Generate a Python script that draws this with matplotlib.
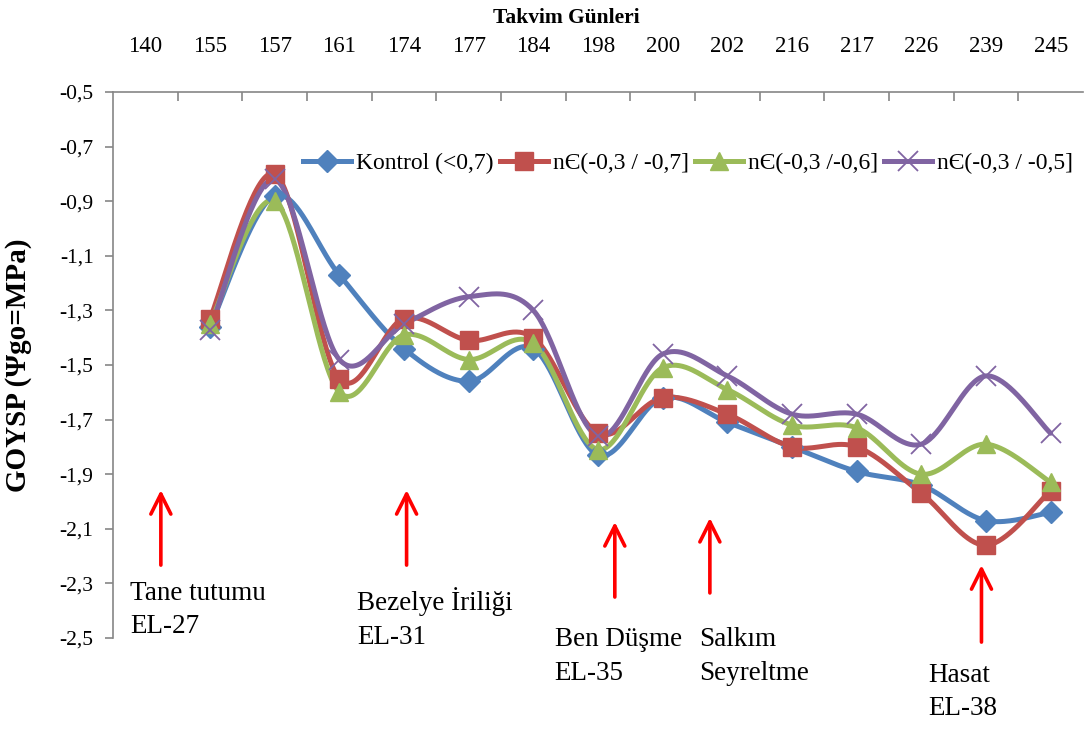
import numpy as np
import matplotlib
matplotlib.use("Agg")
import matplotlib.pyplot as plt
from matplotlib.lines import Line2D
from matplotlib.ticker import FixedLocator, FuncFormatter

plt.rcParams['font.family'] = ['Liberation Serif', 'DejaVu Serif']

# ---------------- data ----------------
days = ["140", "155", "157", "161", "174", "177", "184", "198", "200", "202",
        "216", "217", "226", "239", "245"]
kontrol = [np.nan, -1.36, -0.88, -1.17, -1.44, -1.56, -1.44, -1.83, -1.62, -1.71,
           -1.80, -1.89, -1.94, -2.07, -2.04]
s07 = [np.nan, -1.33, -0.80, -1.55, -1.33, -1.41, -1.40, -1.75, -1.62, -1.68,
       -1.80, -1.80, -1.97, -2.16, -1.96]
s06 = [np.nan, -1.35, -0.90, -1.60, -1.39, -1.48, -1.42, -1.81, -1.51, -1.59,
       -1.72, -1.73, -1.90, -1.79, -1.93]
s05 = [np.nan, -1.37, -0.82, -1.48, -1.35, -1.25, -1.30, -1.76, -1.46, -1.54,
       -1.68, -1.68, -1.79, -1.54, -1.75]
labels = ["Kontrol (<0,7)", "nЄ(-0,3 / -0,7]", "nЄ(-0,3 /-0,6]", "nЄ(-0,3 / -0,5]"]
yticks = [-2.5, -2.3, -2.1, -1.9, -1.7, -1.5, -1.3, -1.1, -0.9, -0.7, -0.5]

# annotations: (text, x index, text top y, arrow x, arrow tail y, arrow tip y)
notes_text = ["Tane tutumu\nEL-27", "Bezelye İriliği\nEL-31", "Ben Düşme\nEL-35",
              "Salkım\nSeyreltme", "Hasat\nEL-38"]
notes_tx = [-0.24, 3.27, 6.33, 8.57, 12.10]
notes_ty = [-2.29, -2.315, -2.46, -2.46, -2.59]
arrow_x = [0.24, 4.04, 7.26, 8.73, 12.93]
arrow_tail = [-2.233, -2.233, -2.35, -2.335, -2.515]
arrow_tip = [-1.958, -1.958, -2.075, -2.06, -2.233]

colors = ["#4F81BD", "#C0504D", "#9BBB59", "#8064A2"]
markers = ["D", "s", "^", "x"]
msizes = [11, 13.5, 13.5, 14]


def smooth(xs, ys, n=40):
    xs = np.asarray(xs, float)
    ys = np.asarray(ys, float)
    m = ~np.isnan(ys)
    pts = np.column_stack([xs[m], ys[m]])
    P = np.vstack([pts[0], pts, pts[-1]])
    out = []
    t = np.linspace(0, 1, n)[:, None]
    for i in range(len(pts) - 1):
        p0, p1, p2, p3 = P[i], P[i + 1], P[i + 2], P[i + 3]
        c1 = p1 + (p2 - p0) / 6.0
        c2 = p2 - (p3 - p1) / 6.0
        B = (1 - t) ** 3 * p1 + 3 * (1 - t) ** 2 * t * c1 + 3 * (1 - t) * t ** 2 * c2 + t ** 3 * p2
        out.append(B if i == 0 else B[1:])
    out = np.vstack(out)
    return out[:, 0], out[:, 1]


fig = plt.figure(figsize=(10.86, 7.31), dpi=100)
ax = fig.add_axes([113 / 1086, 1 - 638 / 731, 970 / 1086, (638 - 92) / 731])

x = np.arange(len(days))
series = [kontrol, s07, s06, s05]
handles = []
for ys, c, mk, ms, lab in zip(series, colors, markers, msizes, labels):
    sx, sy = smooth(x, ys)
    ax.plot(sx, sy, color=c, lw=3.6, solid_capstyle='round', zorder=3)
    if mk == 'x':
        ax.plot(x, ys, linestyle='none', marker=mk, ms=ms, mew=1.3, color=c, zorder=4)
    else:
        ax.plot(x, ys, linestyle='none', marker=mk, ms=ms, mec=c, mfc=c, zorder=4)
    handles.append(Line2D([0], [0], color=c, lw=3.6, marker=mk, ms=ms,
                          mew=1.3 if mk == 'x' else 1.0, mfc=c, mec=c))

ax.set_xlim(-0.5, len(days) - 0.5)
ax.set_ylim(-2.5, -0.5)

# axes styling
gray = "#868686"
for s in ['right', 'bottom']:
    ax.spines[s].set_visible(False)
for s in ['left', 'top']:
    ax.spines[s].set_color(gray)
    ax.spines[s].set_linewidth(1.2)

ax.xaxis.tick_top()
ax.set_xticks(x)
ax.set_xticklabels(days, fontsize=16.5)
ax.xaxis.set_minor_locator(FixedLocator(np.arange(0.5, len(days) - 1, 1.0)))
ax.tick_params(axis='x', which='major', length=0, pad=25)
ax.tick_params(axis='x', which='minor', direction='in', length=6.5, color=gray, width=1.2, top=True, bottom=False)
ax.set_xlabel("Takvim Günleri", fontsize=15.5, fontweight='bold')
ax.xaxis.set_label_position('top')
ax.xaxis.set_label_coords((566 - 113) / 970, 1 + (92 - 8) / 546, transform=ax.transAxes)
ax.xaxis.label.set_va('top')

ax.set_yticks(yticks)
ax.yaxis.set_major_formatter(FuncFormatter(lambda v, p: f"{v:.1f}".replace('.', ',')))
ax.tick_params(axis='y', which='major', direction='out', length=6, color=gray, width=1.2, labelsize=15.5, pad=8)
ax.set_ylabel("GOYSP (Ψgo=MPa)", fontsize=21, fontweight='bold')
ax.yaxis.set_label_coords((32 - 113) / 970, 0.5)

leg = fig.legend(handles, labels, loc='center left', bbox_to_anchor=(303 / 1086, 1 - 163 / 731),
                 ncol=4, frameon=False, fontsize=17, handlelength=2.05, handletextpad=0.2,
                 columnspacing=0.25, borderpad=0, borderaxespad=0)

for txt, tx, ty, axx, at, ah in zip(notes_text, notes_tx, notes_ty, arrow_x, arrow_tail, arrow_tip):
    ax.annotate("", xy=(axx, ah), xytext=(axx, at), annotation_clip=False,
                arrowprops=dict(arrowstyle='->', color='#FF0000', lw=2.6, mutation_scale=36,
                                shrinkA=0, shrinkB=0))
    ax.text(tx, ty, txt, fontsize=19.5, ha='left', va='top', linespacing=1.45, clip_on=False)

fig.savefig("out.png", dpi=100)
